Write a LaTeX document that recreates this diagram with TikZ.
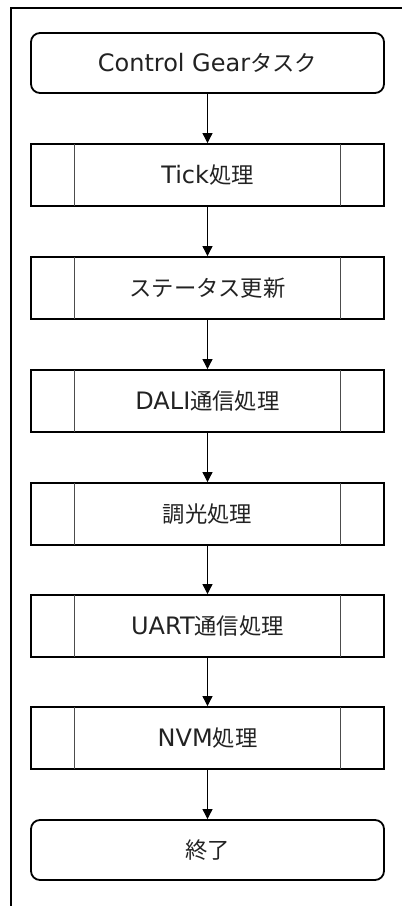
\documentclass[tikz,border=0pt]{standalone}
\usepackage{fontspec}
\setmainfont{DejaVu Sans}
\newfontfamily\jp[Scale=0.93]{Noto Sans CJK JP}
\usetikzlibrary{arrows.meta}
\definecolor{txt}{HTML}{222222}
\tikzset{
  termbox/.style={draw=black, line width=1.8pt, rounded corners=9pt, minimum width=353pt, minimum height=60pt, inner sep=0pt, text=txt, font=\fontsize{24}{28}\selectfont},
  procbox/.style={draw=black, line width=1.8pt, minimum width=353pt, minimum height=62pt, inner sep=0pt, text=txt, font=\fontsize{24}{28}\selectfont},
  divider/.style={draw=black!70, line width=1.1pt},
  flow/.style={draw=black, line width=0.8pt, -{Triangle[length=10pt,width=10pt]}},
  frame/.style={draw=black, line width=2pt}
}
\begin{document}
\begin{tikzpicture}[x=1pt,y=-1pt]
\useasboundingbox (0,0) rectangle (402,906);
\draw[frame] (11,906) -- (11,7.5) -- (402,7.5);
\node[termbox] (s) at (207.5,63) {Control Gear{\jp タスク}};
\node[procbox] (p1) at (207.5,175) {Tick{\jp 処理}};
\node[procbox] (p2) at (207.5,288) {{\jp ステータス更新}};
\node[procbox] (p3) at (207.5,401) {DALI{\jp 通信処理}};
\node[procbox] (p4) at (207.5,514) {{\jp 調光処理}};
\node[procbox] (p5) at (207.5,626) {UART{\jp 通信処理}};
\node[procbox] (p6) at (207.5,738) {NVM{\jp 処理}};
\node[termbox] (e) at (207.5,850) {{\jp 終了}};
\foreach \n in {p1,p2,p3,p4,p5,p6}{
  \draw[divider] ([xshift=44pt,yshift=-0.9pt]\n.north west) -- ([xshift=44pt,yshift=0.9pt]\n.south west);
  \draw[divider] ([xshift=-44pt,yshift=-0.9pt]\n.north east) -- ([xshift=-44pt,yshift=0.9pt]\n.south east);
}
\draw[flow] (s) -- (p1);
\draw[flow] (p1) -- (p2);
\draw[flow] (p2) -- (p3);
\draw[flow] (p3) -- (p4);
\draw[flow] (p4) -- (p5);
\draw[flow] (p5) -- (p6);
\draw[flow] (p6) -- (e);
\end{tikzpicture}
\end{document}
